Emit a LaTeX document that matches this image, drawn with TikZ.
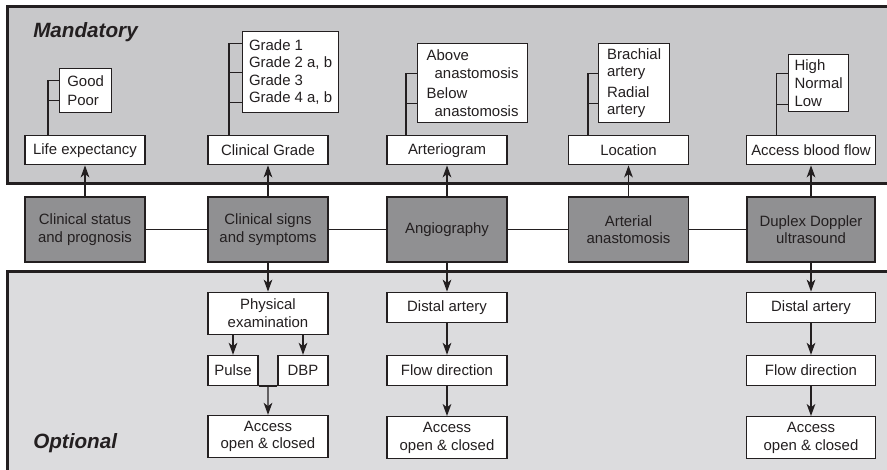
\documentclass[tikz,border=0pt]{standalone}
\usepackage{fontspec}
\setmainfont{Liberation Sans}
\usetikzlibrary{arrows.meta,positioning,calc}
\definecolor{PanelTop}{HTML}{C8C8CA}
\definecolor{PanelLow}{HTML}{DCDCDE}
\definecolor{StepGrey}{HTML}{909092}
\definecolor{Ink}{HTML}{231F20}

\begin{document}
\begin{tikzpicture}[x=0.75pt,y=-0.75pt,
  every node/.style={font=\fontsize{11.2}{13.2}\selectfont,text=Ink},
  box/.style={draw=Ink,line width=0.9pt,fill=white,minimum width=90pt,align=center,inner sep=2pt},
  aspect/.style={box,minimum height=21.75pt},
  single/.style={box,minimum height=22.5pt},
  double/.style={box,minimum height=31.5pt},
  listbox/.style={draw=Ink,line width=0.9pt,fill=white,align=left,anchor=north west,inner xsep=4.5pt},
  topic/.style={draw=Ink,line width=0.9pt,fill=StepGrey,minimum width=90pt,minimum height=48.75pt,align=center},
  panelname/.style={font=\fontsize{15.5}{18}\selectfont\bfseries\itshape,anchor=west,inner sep=0pt},
  link/.style={draw=Ink,line width=0.9pt},
  arr/.style={link,-{Stealth[length=9pt,width=6.5pt,inset=2.5pt]}},
]
\useasboundingbox (0,0) rectangle (887,469);

% the two panels run off the right and bottom edges
\fill[PanelTop] (7,6) rectangle (900,183);
\draw[Ink,line width=2.25pt] (900,6) -- (7,6) -- (7,183) -- (900,183);
\fill[PanelLow] (7,271) rectangle (900,480);
\draw[Ink,line width=2.25pt] (900,271) -- (7,271) -- (7,480);

\node[panelname] (mand) at (33,32) {Mandatory};
\node[panelname] (opt) at (33,443) {Optional};

% middle row
\node[topic] (status) at (85,229.5) {Clinical status\\and prognosis};
\node[topic] (signs) at (268,229.5) {Clinical signs\\and symptoms};
\node[topic] (angio) at (447,229.5) {Angiography};
\node[topic] (anast) at (628.5,229.5) {Arterial\\anastomosis};
\node[topic,minimum width=96pt] (duplex) at (811,229.5) {Duplex Doppler\\ultrasound};

\draw[link] (status) -- (signs);
\draw[link] (signs) -- (angio);
\draw[link] (angio) -- (anast);
\draw[link] (anast) -- (duplex);

% mandatory items
\node[aspect,above=23.25pt of status] (life) {Life expectancy};
\node[aspect,above=23.25pt of signs] (grade) {Clinical Grade};
\node[aspect,above=23.25pt of angio] (arteriogram) {Arteriogram};
\node[aspect,above=23.25pt of anast] (location) {Location};
\node[aspect,minimum width=96.75pt,above=23.25pt of duplex] (flow) {Access blood flow};

\foreach \src/\dst in {status/life,signs/grade,angio/arteriogram,anast/location,duplex/flow}
  \draw[arr] (\src) -- (\dst);

\node[listbox,minimum width=39pt,minimum height=33pt] (prog) at (59,68) {Good\\[1.5pt]Poor};
\node[listbox,minimum width=72pt,minimum height=60.75pt] (grades) at (242,31) {Grade 1\\Grade 2 a, b\\Grade 3\\Grade 4 a, b};
\node[listbox,minimum width=82.5pt,minimum height=59.25pt] (level) at (417,43) {Above\\\hspace*{6pt}anastomosis\\[2pt]Below\\\hspace*{6pt}anastomosis};
\node[listbox,minimum width=53.25pt,minimum height=59.25pt] (site) at (598,43) {Brachial\\artery\\[2pt]Radial\\artery};
\node[listbox,minimum width=44.25pt,minimum height=42.75pt] (rate) at (788,54) {High\\Normal\\Low};

\draw[link] ($(life.north)+(-37,0)$) |- ($(prog.west)+(0,-10)$);
\draw[link] ($(life.north)+(-37,0)$) |- ($(prog.west)+(0,10)$);
\foreach \dy in {-28.5,0,30.5}
  \draw[link] ($(grade.north)+(-39,0)$) |- ($(grades.west)+(0,\dy)$);
\foreach \dy in {-9.5,20.5}{
  \draw[link] ($(arteriogram.north)+(-41,0)$) |- ($(level.west)+(0,\dy)$);
  \draw[link] ($(location.north)+(-40.5,0)$) |- ($(site.west)+(0,\dy)$);
}
\foreach \dy in {-9.5,21.5}
  \draw[link] ($(flow.north)+(-34.5,0)$) |- ($(rate.west)+(0,\dy)$);

% optional items
\node[double,below=21.75pt of signs] (exam) {Physical\\examination};
\node[box,minimum width=37.5pt,minimum height=22.5pt,below=15pt of exam.south west,anchor=north west] (pulse) {Pulse};
\node[box,minimum width=37.5pt,minimum height=22.5pt,below=15pt of exam.south east,anchor=north east] (dbp) {DBP};
\node[double,below=60pt of exam] (access1) {Access\\open \& closed};

\node[single,below=21.75pt of angio] (distal1) {Distal artery};
\node[single,below=24pt of distal1] (dir1) {Flow direction};
\node[double,below=22.5pt of dir1] (access2) {Access\\open \& closed};

\node[single,minimum width=96.75pt,below=21.75pt of duplex] (distal2) {Distal artery};
\node[single,minimum width=96.75pt,below=24pt of distal2] (dir2) {Flow direction};
\node[double,minimum width=96.75pt,below=22.5pt of dir2] (access3) {Access\\open \& closed};

\draw[arr] (signs) -- (exam);
\draw[arr] (exam.south -| pulse.north) -- (pulse.north);
\draw[arr] (exam.south -| dbp.north) -- (dbp.north);
\draw[link] (pulse.south east) -- (dbp.south west);
\draw[arr] ($(pulse.south east)!0.5!(dbp.south west)$) -- (access1);

\draw[arr] (angio) -- (distal1);
\draw[arr] (distal1) -- (dir1);
\draw[arr] (dir1) -- (access2);
\draw[arr] (duplex) -- (distal2);
\draw[arr] (distal2) -- (dir2);
\draw[arr] (dir2) -- (access3);
\end{tikzpicture}
\end{document}
